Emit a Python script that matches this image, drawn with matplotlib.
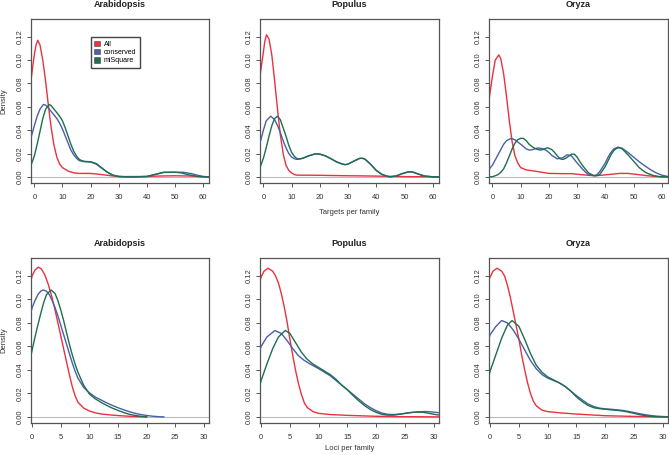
import matplotlib
matplotlib.use("Agg")
import matplotlib.pyplot as plt
from matplotlib.patches import Patch

plt.rcParams['font.family'] = ['Liberation Sans', 'DejaVu Sans']

titles = ["Arabidopsis", "Populus", "Oryza"]
series_names = ["All", "conserved", "miSquare"]
colors = ["#E8323F", "#4A5EAA", "#1E6E50"]
x_labels = ["Targets per family", "Loci per family"]

x_ticks_top = [0, 10, 20, 30, 40, 50, 60]
x_ticks_bot = [0, 5, 10, 15, 20, 25, 30]
y_ticks = [0.00, 0.02, 0.04, 0.06, 0.08, 0.10, 0.12]
y_ticklabels = ["0.00", "0.02", "0.04", "0.06", "0.08", "0.10", "0.12"]

# ---- Targets per family (top row) ----
ara_t_all_x = [-1.2, 0, 0.6, 1.2, 2, 3, 4, 5, 6, 7, 8, 9, 10, 12, 14, 16, 20, 24, 28, 32, 40, 45, 50, 55, 60, 62]
ara_t_all_y = [0.083, 0.105, 0.113, 0.117, 0.113, 0.100, 0.082, 0.061, 0.042, 0.027, 0.017, 0.011, 0.008, 0.005, 0.0035, 0.003, 0.003, 0.002, 0.0008, 0.0003, 0.0004, 0.0008, 0.001, 0.0008, 0.0002, 0.0]
ara_t_con_x = [-1.2, 0, 1, 2, 3.2, 4, 5, 6, 7, 8, 9, 10, 11, 12, 13, 14, 15, 16, 17, 18, 20, 22, 24, 26, 28, 30, 35, 40, 43, 46, 50, 53, 56, 58, 60, 62]
ara_t_con_y = [0.0335, 0.044, 0.052, 0.058, 0.062, 0.0615, 0.059, 0.056, 0.053, 0.050, 0.046, 0.041, 0.035, 0.029, 0.023, 0.019, 0.016, 0.014, 0.0133, 0.013, 0.0128, 0.011, 0.0075, 0.004, 0.0015, 0.0003, 0.0, 0.0003, 0.002, 0.0038, 0.004, 0.004, 0.0028, 0.0015, 0.0005, 0.0]
ara_t_mis_x = [-1.2, 0, 1, 2, 3, 4, 5.3, 6, 7, 8, 9, 10, 11, 12, 13, 14, 15, 16, 17, 18, 20, 22, 24, 26, 28, 30, 35, 40, 43, 46, 50, 52, 55, 58, 60, 62]
ara_t_mis_y = [0.010, 0.018, 0.028, 0.039, 0.050, 0.058, 0.062, 0.061, 0.058, 0.055, 0.052, 0.048, 0.042, 0.035, 0.028, 0.022, 0.018, 0.015, 0.0138, 0.0133, 0.013, 0.0115, 0.0078, 0.004, 0.0015, 0.0003, 0.0, 0.0004, 0.0022, 0.004, 0.004, 0.0036, 0.0018, 0.0005, 0.0001, 0.0]

pop_t_all_x = [-1.2, 0, 0.5, 1.1, 2, 3, 4, 5, 6, 7, 8, 9, 10, 11, 12, 15, 20, 25, 30, 35, 40, 45, 50, 55, 60, 62]
pop_t_all_y = [0.0865, 0.107, 0.116, 0.1217, 0.118, 0.104, 0.082, 0.058, 0.036, 0.020, 0.010, 0.0055, 0.0034, 0.002, 0.0015, 0.0015, 0.0014, 0.0012, 0.001, 0.0009, 0.0007, 0.0005, 0.0003, 0.0002, 0.0001, 0.0]
pop_t_con_x = [-1.2, 0, 1, 2.6, 4, 5, 6, 7, 8, 9, 10, 11, 12, 13, 14, 16, 18, 19, 20, 22, 24, 26, 28, 29, 30, 32, 34, 35, 36, 38, 40, 42, 44, 45, 47, 49, 51, 52, 53, 55, 57, 60, 62]
pop_t_con_y = [0.029, 0.040, 0.048, 0.052, 0.049, 0.044, 0.038, 0.031, 0.025, 0.020, 0.017, 0.0155, 0.015, 0.0155, 0.016, 0.018, 0.0195, 0.0198, 0.0195, 0.018, 0.0155, 0.0128, 0.011, 0.0105, 0.011, 0.0135, 0.0158, 0.016, 0.0152, 0.0108, 0.0055, 0.0022, 0.0004, 0.0001, 0.0008, 0.0028, 0.0042, 0.0045, 0.0042, 0.0025, 0.0009, 0.0001, 0.0]
pop_t_mis_x = [-1.2, 0, 1, 2, 3, 4, 5, 6, 7, 8, 9, 10, 11, 12, 13, 14, 16, 18, 19, 20, 22, 24, 26, 28, 29, 30, 32, 34, 35, 36, 38, 40, 42, 44, 45, 47, 49, 51, 52, 53, 55, 57, 60, 62]
pop_t_mis_y = [0.008, 0.016, 0.025, 0.035, 0.044, 0.050, 0.052, 0.049, 0.042, 0.035, 0.027, 0.021, 0.0175, 0.0155, 0.0155, 0.016, 0.018, 0.0195, 0.0198, 0.0195, 0.018, 0.0155, 0.0128, 0.011, 0.0105, 0.011, 0.0135, 0.0158, 0.016, 0.0152, 0.0108, 0.0055, 0.0022, 0.0004, 0.0001, 0.0008, 0.0026, 0.004, 0.0043, 0.004, 0.0022, 0.0007, 0.0001, 0.0]

ory_t_all_x = [-1.2, 0, 1, 2.3, 3, 4, 5, 6, 7, 8, 9, 10, 12, 15, 18, 20, 25, 28, 32, 35, 38, 41, 45, 48, 51, 55, 58, 60, 62]
ory_t_all_y = [0.066, 0.086, 0.100, 0.1045, 0.101, 0.088, 0.069, 0.048, 0.030, 0.018, 0.012, 0.008, 0.006, 0.005, 0.0038, 0.003, 0.0028, 0.0028, 0.0018, 0.0012, 0.0013, 0.002, 0.003, 0.003, 0.0022, 0.001, 0.0004, 0.0001, 0.0]
ory_t_con_x = [-1.2, 0, 2, 4, 5, 6.6, 8, 10, 12, 13, 14, 16, 17, 18, 19, 20, 21, 23, 25, 26.5, 28, 29, 30, 32, 33, 34, 36, 37, 38, 40, 41, 42, 43, 44.5, 46, 48, 50, 52, 54, 56, 58, 60, 62]
ory_t_con_y = [0.0065, 0.010, 0.019, 0.028, 0.031, 0.033, 0.0318, 0.028, 0.024, 0.023, 0.0232, 0.0248, 0.0245, 0.024, 0.0228, 0.021, 0.0185, 0.0155, 0.0165, 0.019, 0.018, 0.015, 0.012, 0.0065, 0.004, 0.002, 0.001, 0.0018, 0.0045, 0.012, 0.017, 0.021, 0.024, 0.0255, 0.0245, 0.021, 0.017, 0.013, 0.0095, 0.0062, 0.0035, 0.0015, 0.0005]
ory_t_mis_x = [-1.2, 0, 1, 2, 3, 4, 5, 6, 7, 8, 9, 10, 11, 12, 13, 14, 15, 16, 17, 18, 19.5, 21, 22, 23, 24, 25, 26, 28, 29, 30, 31, 32, 34, 36, 37, 38, 40, 41, 42, 43, 44, 45, 46, 48, 50, 52, 54, 55, 57, 59, 62]
ory_t_mis_y = [0.0, 0.0002, 0.001, 0.002, 0.004, 0.007, 0.012, 0.018, 0.024, 0.029, 0.032, 0.033, 0.033, 0.031, 0.028, 0.026, 0.0245, 0.0235, 0.023, 0.0235, 0.025, 0.0235, 0.021, 0.018, 0.0155, 0.015, 0.016, 0.0195, 0.0195, 0.017, 0.013, 0.0095, 0.0035, 0.001, 0.001, 0.002, 0.009, 0.014, 0.019, 0.0225, 0.0245, 0.025, 0.024, 0.019, 0.0135, 0.008, 0.0042, 0.003, 0.0012, 0.0003, 0.0]

# ---- Loci per family (bottom row) ----
ara_l_all_x = [-0.2, 0, 0.5, 1.05, 1.6, 2.2, 2.8, 3.4, 4, 4.5, 5, 5.5, 6, 6.5, 7, 7.5, 8, 9, 10, 11, 12, 14, 16, 18, 20]
ara_l_all_y = [0.1166, 0.120, 0.125, 0.1274, 0.126, 0.121, 0.113, 0.103, 0.091, 0.080, 0.069, 0.058, 0.047, 0.036, 0.026, 0.018, 0.0125, 0.0075, 0.005, 0.0035, 0.0025, 0.0015, 0.0008, 0.0003, 0.0]
ara_l_con_x = [-0.2, 0, 0.5, 1, 1.5, 1.9, 2.5, 3, 3.5, 4, 4.5, 5, 5.5, 6, 6.5, 7, 7.5, 8, 9, 10, 11, 12, 13, 14, 15, 16, 17, 18, 19, 20, 21, 22, 23]
ara_l_con_y = [0.089, 0.093, 0.099, 0.104, 0.107, 0.108, 0.107, 0.104, 0.099, 0.093, 0.086, 0.078, 0.070, 0.062, 0.054, 0.046, 0.039, 0.033, 0.025, 0.0205, 0.017, 0.0145, 0.012, 0.0098, 0.0078, 0.006, 0.0044, 0.003, 0.002, 0.0012, 0.0006, 0.0002, 0.0]
ara_l_mis_x = [-0.2, 0, 0.5, 1, 1.5, 2, 2.5, 3.3, 4, 4.5, 5, 5.5, 6, 6.5, 7, 7.5, 8, 9, 10, 11, 12, 13, 14, 15, 16, 17, 18, 19, 20]
ara_l_mis_y = [0.052, 0.057, 0.068, 0.078, 0.088, 0.097, 0.104, 0.108, 0.105, 0.099, 0.091, 0.082, 0.072, 0.062, 0.053, 0.045, 0.038, 0.027, 0.0195, 0.0155, 0.0125, 0.0098, 0.0075, 0.0055, 0.0037, 0.0022, 0.0012, 0.0005, 0.0]

pop_l_all_x = [-0.2, 0, 0.5, 1.2, 2, 2.5, 3, 3.5, 4, 4.5, 5, 5.5, 6, 6.5, 7, 7.5, 8, 9, 10, 12, 15, 20, 25, 31]
pop_l_all_y = [0.116, 0.119, 0.124, 0.1265, 0.124, 0.120, 0.114, 0.105, 0.094, 0.081, 0.066, 0.052, 0.039, 0.028, 0.019, 0.012, 0.008, 0.0045, 0.003, 0.002, 0.0013, 0.0005, 0.0002, 0.0]
pop_l_con_x = [-0.2, 0, 1, 2.4, 3.5, 4.5, 5.5, 6.5, 7.5, 8.5, 10, 11, 12, 13, 14, 15, 16, 17, 18, 19, 20, 21, 22, 23, 24, 25, 26, 27, 28, 29, 30, 31]
pop_l_con_y = [0.057, 0.060, 0.068, 0.0735, 0.071, 0.065, 0.058, 0.052, 0.048, 0.045, 0.041, 0.038, 0.035, 0.031, 0.027, 0.023, 0.019, 0.015, 0.011, 0.0078, 0.0052, 0.0032, 0.0022, 0.002, 0.0024, 0.003, 0.0036, 0.0042, 0.0045, 0.0045, 0.004, 0.0035]
pop_l_mis_x = [-0.2, 0, 1, 2, 3, 4.2, 5, 6, 7, 8, 9, 10, 11, 12, 13, 14, 15, 16, 17, 18, 19, 20, 21, 22, 23, 24, 25, 26, 27, 28, 29, 30, 31]
pop_l_mis_y = [0.027, 0.031, 0.045, 0.058, 0.068, 0.0735, 0.071, 0.063, 0.055, 0.049, 0.045, 0.042, 0.039, 0.036, 0.032, 0.027, 0.023, 0.018, 0.0135, 0.0095, 0.0062, 0.0038, 0.0022, 0.0015, 0.0015, 0.0022, 0.003, 0.0038, 0.004, 0.004, 0.0032, 0.0022, 0.0015]

ory_l_all_x = [-0.2, 0, 0.5, 1.2, 2, 2.5, 3, 3.5, 4, 4.5, 5, 5.5, 6, 6.5, 7, 7.5, 8, 9, 10, 12, 15, 20, 25, 31]
ory_l_all_y = [0.117, 0.119, 0.124, 0.1265, 0.124, 0.120, 0.112, 0.102, 0.090, 0.078, 0.066, 0.052, 0.040, 0.029, 0.020, 0.0135, 0.0095, 0.0058, 0.0045, 0.0035, 0.0024, 0.001, 0.0004, 0.0]
ory_l_con_x = [-0.2, 0, 1, 2.0, 3, 4, 5, 6, 7, 8, 9, 10, 11, 12, 13, 14, 15, 16, 17, 18, 19, 20, 21, 22, 23, 24, 25, 26, 27, 28, 29, 30, 31]
ory_l_con_y = [0.067, 0.070, 0.077, 0.082, 0.080, 0.074, 0.066, 0.057, 0.048, 0.041, 0.036, 0.033, 0.031, 0.029, 0.026, 0.022, 0.018, 0.0145, 0.011, 0.0088, 0.0075, 0.0068, 0.0065, 0.006, 0.0055, 0.0047, 0.0037, 0.0027, 0.0018, 0.0011, 0.0006, 0.0003, 0.0001]
ory_l_mis_x = [-0.2, 0, 1, 2, 3, 3.8, 5, 6, 7, 8, 9, 10, 11, 12, 13, 14, 15, 16, 17, 18, 19, 20, 21, 22, 23, 24, 25, 26, 27, 28, 29, 30, 31]
ory_l_mis_y = [0.035, 0.039, 0.053, 0.067, 0.078, 0.082, 0.077, 0.066, 0.054, 0.044, 0.038, 0.034, 0.0315, 0.029, 0.026, 0.022, 0.017, 0.013, 0.0098, 0.0078, 0.007, 0.0065, 0.006, 0.0056, 0.005, 0.0041, 0.003, 0.0019, 0.001, 0.0004, 0.0001, 0.0, 0.0]

top_data = [
    [(ara_t_all_x, ara_t_all_y), (ara_t_con_x, ara_t_con_y), (ara_t_mis_x, ara_t_mis_y)],
    [(pop_t_all_x, pop_t_all_y), (pop_t_con_x, pop_t_con_y), (pop_t_mis_x, pop_t_mis_y)],
    [(ory_t_all_x, ory_t_all_y), (ory_t_con_x, ory_t_con_y), (ory_t_mis_x, ory_t_mis_y)],
]
bot_data = [
    [(ara_l_all_x, ara_l_all_y), (ara_l_con_x, ara_l_con_y), (ara_l_mis_x, ara_l_mis_y)],
    [(pop_l_all_x, pop_l_all_y), (pop_l_con_x, pop_l_con_y), (pop_l_mis_x, pop_l_mis_y)],
    [(ory_l_all_x, ory_l_all_y), (ory_l_con_x, ory_l_con_y), (ory_l_mis_x, ory_l_mis_y)],
]

W, H = 669, 455
fig = plt.figure(figsize=(W / 100, H / 100), dpi=100)

lefts = [31, 260, 489]
widths = [178, 179, 179]
rows = [(19, 183), (258, 423)]
xlabel_y = [212, 449]
frame_col = "#555555"
text_col = "#333333"

for r, (ytop, ybot) in enumerate(rows):
    data = top_data if r == 0 else bot_data
    for c in range(3):
        ax = fig.add_axes([lefts[c] / W, (H - ybot) / H, widths[c] / W, (ybot - ytop) / H])
        ax.axhline(0, color="#BBBBBB", lw=0.8, zorder=1)
        for s in range(3):
            xs, ys = data[c][s]
            ax.plot(xs, ys, color=colors[s], lw=1.0, zorder=2 + s)
        if r == 0:
            ax.set_xlim(-1.2, 62.2)
            ax.set_xticks(x_ticks_top)
        else:
            ax.set_xlim(-0.2, 30.9)
            ax.set_xticks(x_ticks_bot)
        ax.set_ylim(-0.0052, 0.1352)
        ax.set_yticks(y_ticks)
        ax.set_yticklabels(y_ticklabels, rotation=90, va="center")
        for sp in ax.spines.values():
            sp.set_color(frame_col)
            sp.set_linewidth(0.9)
        ax.tick_params(axis="both", labelsize=5.5, colors=frame_col, labelcolor=text_col,
                       length=3, width=0.7, pad=2)
        ax.tick_params(axis="x", pad=5)
        ax.set_title(titles[c], fontsize=6.5, fontweight="bold", color="#222222", pad=9)
        if c == 0:
            ax.set_ylabel("Density", fontsize=5.5, color=text_col, labelpad=7)
        if c == 1:
            fig.text((lefts[c] + widths[c] / 2) / W, 1 - xlabel_y[r] / H, x_labels[r],
                     fontsize=5.5, color=text_col, ha="center", va="center")
        if r == 0 and c == 0:
            handles = [Patch(facecolor=colors[i], edgecolor="#444444", linewidth=0.4) for i in range(3)]
            ax.legend(handles, series_names, loc="upper left", bbox_to_anchor=(0.335, 0.89),
                      borderaxespad=0,
                      fontsize=5.0, frameon=True, fancybox=False, edgecolor="#444444",
                      handlelength=0.8, handleheight=0.8, handletextpad=0.6,
                      borderpad=0.5, labelspacing=0.2, framealpha=1)

fig.savefig("out.png", dpi=100)
